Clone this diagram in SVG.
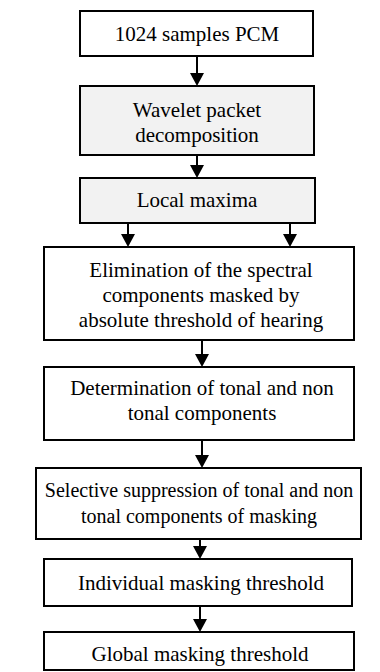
<svg xmlns="http://www.w3.org/2000/svg" width="380" height="672" viewBox="0 0 380 672">
<style>
.box{fill:#ffffff;stroke:#000000;stroke-width:2}
.gray{fill:#f2f2f2}
.t{font-family:"Liberation Serif","Times New Roman",serif;font-size:21px;fill:#000000;text-anchor:middle}
.s{font-size:20px}
.c{stroke:#000000;stroke-width:2;fill:none}
.h{fill:#000000;stroke:none}
</style>
<rect width="380" height="672" fill="#ffffff"/>
<g id="connectors">
<line class="c" x1="197" y1="56" x2="197" y2="74"/><polygon class="h" points="190,73 204,73 197,86"/>
<line class="c" x1="197" y1="155" x2="197" y2="166"/><polygon class="h" points="190,165 204,165 197,178"/>
<line class="c" x1="128" y1="223" x2="128" y2="235"/><polygon class="h" points="121,234 135,234 128,247"/>
<line class="c" x1="290" y1="223" x2="290" y2="235"/><polygon class="h" points="283,234 297,234 290,247"/>
<line class="c" x1="202" y1="340" x2="202" y2="355"/><polygon class="h" points="195,354 209,354 202,367"/>
<line class="c" x1="202" y1="440" x2="202" y2="456"/><polygon class="h" points="195,455 209,455 202,468"/>
<line class="c" x1="200" y1="536" x2="200" y2="547"/><polygon class="h" points="193,546 207,546 200,559"/>
<line class="c" x1="200" y1="606" x2="200" y2="620"/><polygon class="h" points="193,619 207,619 200,632"/>
</g>
<g id="n1"><rect class="box" x="80" y="11" width="233" height="45"/><text class="t" x="197" y="41">1024 samples PCM</text></g>
<g id="n2"><rect class="box gray" x="80" y="86" width="234" height="69"/><text class="t" x="197" y="117">Wavelet packet</text><text class="t" x="197" y="142">decomposition</text></g>
<g id="n3"><rect class="box gray" x="80" y="178" width="235" height="45"/><text class="t" x="197" y="207">Local maxima</text></g>
<g id="n4"><rect class="box" x="44" y="247" width="310" height="93"/><text class="t" x="201" y="277">Elimination of the spectral</text><text class="t" x="201" y="302">components masked by</text><text class="t" x="201" y="327">absolute threshold of hearing</text></g>
<g id="n5"><rect class="box" x="44" y="367" width="310" height="73"/><text class="t" x="202" y="395">Determination of tonal and non</text><text class="t" x="202" y="420">tonal components</text></g>
<g id="n6"><rect class="box" x="36" y="468" width="325" height="71"/><text class="t s" x="199" y="497">Selective suppression of tonal and non</text><text class="t s" x="199" y="523">tonal components of masking</text></g>
<g id="n7"><rect class="box" x="44" y="559" width="308" height="47"/><text class="t" x="201" y="590">Individual masking threshold</text></g>
<g id="n8"><rect class="box" x="44" y="632" width="310" height="38"/><text class="t" x="200" y="661">Global masking threshold</text></g>
</svg>
